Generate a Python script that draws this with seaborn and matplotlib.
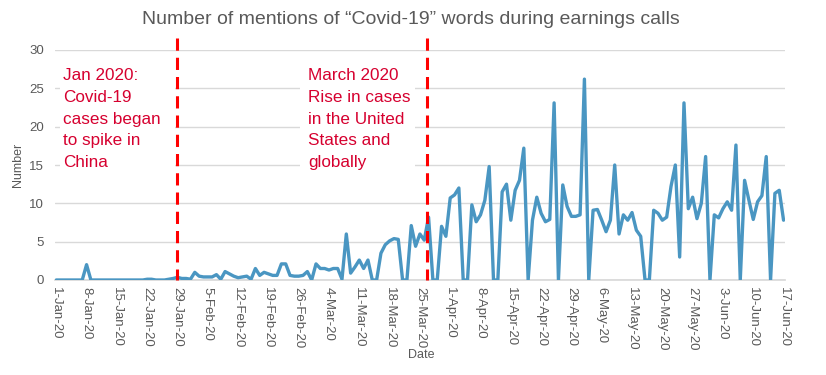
import pandas as pd
import matplotlib
matplotlib.use("Agg")
import matplotlib.pyplot as plt
import matplotlib.dates as mdates
from matplotlib.patches import Rectangle
import seaborn as sns

# daily mentions
jan = [0, 0, 0, 0, 0, 0, 0, 2.0, 0, 0, 0, 0, 0, 0, 0, 0, 0, 0, 0, 0, 0,
       0.1, 0.1, 0, 0, 0, 0.1, 0.2, 0.35, 0.2, 0.2]
feb = [0.1, 1.0, 0.5, 0.4, 0.4, 0.4, 0.7, 0.1, 1.1, 0.8, 0.5, 0.3, 0.4, 0.5,
       0.1, 1.5, 0.6, 1.0, 0.8, 0.6, 0.6, 2.1, 2.1, 0.6, 0.5, 0.5, 0.6, 1.1, 0.0]
mar = [2.1, 1.5, 1.5, 1.3, 1.5, 1.5, 0.1, 6.0, 0.9, 1.7, 2.6, 1.5, 2.6, 0, 0,
       3.5, 4.6, 5.1, 5.4, 5.3, 0, 0, 7.1, 4.4, 6.0, 5.2, 8.2, 0, 0, 7.0, 5.7]
apr = [10.7, 11.1, 12.0, 0, 0, 9.8, 7.6, 8.5, 10.4, 14.8, 0, 0, 11.5, 12.5,
       7.8, 11.7, 13.0, 17.2, 0, 7.8, 10.8, 8.7, 7.6, 7.9, 23.1, 0, 12.4, 9.6,
       8.3, 8.3]
may = [8.5, 26.2, 0, 9.1, 9.2, 7.8, 6.3, 7.8, 15.0, 6.0, 8.5, 7.8, 8.8, 6.5,
       5.7, 0, 0, 9.1, 8.7, 7.8, 8.2, 12.2, 15.0, 3.0, 23.1, 9.3, 10.8, 8.0,
       10.0, 16.1, 0]
jun = [8.5, 8.1, 9.3, 10.2, 9.1, 17.6, 0, 13.0, 10.4, 7.9, 10.2, 11.0, 16.1,
       0, 11.3, 11.7, 7.8]

mentions = jan + feb + mar + apr + may + jun
dates = pd.date_range("2020-01-01", periods=len(mentions), freq="D")
df = pd.DataFrame({"Date": dates, "Number": mentions})

event_dates = [pd.Timestamp("2020-01-29"), pd.Timestamp("2020-03-26 14:00")]
event_notes = ["Jan 2020:\nCovid-19\ncases began\nto spike in\nChina",
               "March 2020\nRise in cases\nin the United\nStates and\nglobally"]
y_ticks = [0, 5, 10, 15, 20, 25, 30]

grey = "#595959"
note_red = "#D6002F"

sns.set_theme(style="white")
plt.rcParams["font.family"] = ["Liberation Sans", "DejaVu Sans"]

fig = plt.figure(figsize=(8.26, 3.75), dpi=100)
ax = fig.add_axes([55 / 826, 95 / 375, 730 / 826, 230 / 375])

sns.lineplot(data=df, x="Date", y="Number", color="#4A96C2",
             linewidth=2.4, ax=ax, zorder=3)

ax.set_ylim(0, 30)
ax.set_yticks(y_ticks)
ax.set_xlim(dates[0] - pd.Timedelta(hours=7), dates[-1] + pd.Timedelta(hours=8))
ax.set_xticks(dates[::7])
ax.xaxis.set_major_formatter(mdates.DateFormatter("%-d-%b-%y"))
ax.tick_params(axis="x", length=0, pad=5, labelsize=9.5, labelcolor=grey,
               labelrotation=270)
ax.tick_params(axis="y", length=0, pad=8, labelsize=9.5, labelcolor=grey)
ax.set_xlabel("")
ax.set_ylabel("")

ax.yaxis.grid(True, color="#D9D9D9", linewidth=1)
ax.set_axisbelow(True)
for side in ["left", "top", "right"]:
    ax.spines[side].set_visible(False)
ax.spines["bottom"].set_color("#D9D9D9")

# red dashed event markers, drawn top-down and a bit above the plot area
ax.vlines(event_dates, 31.6, 0, colors="#FF0000", linestyles=(0, (4, 2.3)),
          linewidth=2.2, clip_on=False, zorder=4)

# white text boxes hiding the gridlines
for x0 in [0.007, 0.3356]:
    ax.add_patch(Rectangle((x0, 0.405), 0.158, 0.573, transform=ax.transAxes,
                           facecolor="white", edgecolor="none", zorder=1.5))
for x0, note in zip([0.011, 0.3466], event_notes):
    ax.text(x0, 0.92, note, transform=ax.transAxes, ha="left", va="top",
            fontsize=12.3, color=note_red, linespacing=1.55, zorder=3)

fig.text(411 / 826, 1 - 20 / 375,
         "Number of mentions of \u201cCovid-19\u201d words during earnings calls",
         ha="center", va="center", fontsize=14, color=grey)
fig.text(18 / 826, 0.56, "Number", rotation=90, ha="center", va="center",
         fontsize=9, color=grey)
fig.text(421 / 826, 1 - 355 / 375, "Date", ha="center", va="center",
         fontsize=9, color=grey)

fig.savefig("out.png", dpi=100)
